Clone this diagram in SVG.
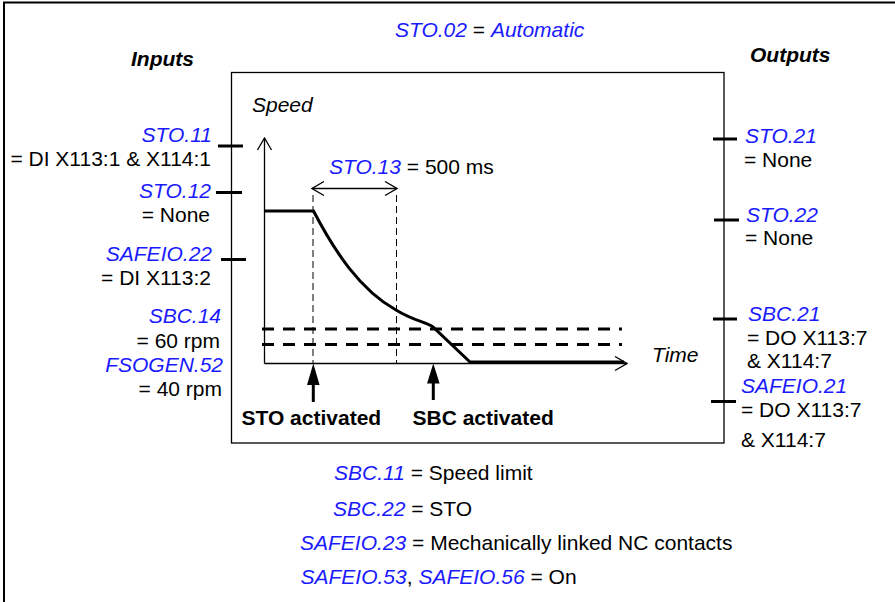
<svg xmlns="http://www.w3.org/2000/svg" width="895" height="602" viewBox="0 0 895 602">
<style>
text{font-family:"Liberation Sans",Arial,sans-serif;font-size:21px;fill:#000}
.p{fill:#1a1aff;font-style:italic}
.i{font-style:italic}
.bi{font-weight:bold;font-style:italic}
.b{font-weight:bold}
.e{text-anchor:end}
.tick{stroke:#000;stroke-width:3}
.thin{stroke:#000;stroke-width:1.3;fill:none}
.thick{stroke:#000;stroke-width:3;fill:none}
</style>
<defs>
<marker id="open" viewBox="0 0 14 16" refX="13" refY="8" markerWidth="14" markerHeight="16" markerUnits="userSpaceOnUse" orient="auto-start-reverse">
<path d="M1,1 L13,8 L1,15" fill="none" stroke="#000" stroke-width="1.3"/>
</marker>
</defs>
<g id="frame">
<path d="M4,602 V2.5 H895" fill="none" stroke="#000" stroke-width="2"/>
<rect x="231.5" y="72.5" width="492.5" height="370.5" fill="none" stroke="#000" stroke-width="1.3"/>
</g>
<g id="title"><text x="395" y="37"><tspan class="p">STO.02</tspan> = <tspan class="p">Automatic</tspan></text></g>
<g id="inputs">
<text class="bi" x="131" y="66">Inputs</text>
<text class="p e" x="212" y="142">STO.11</text>
<text class="e" x="211" y="166">= DI X113:1 &amp; X114:1</text>
<text class="p e" x="211" y="198">STO.12</text>
<text class="e" x="210" y="222">= None</text>
<text class="p e" x="212" y="261">SAFEIO.22</text>
<text class="e" x="211" y="285">= DI X113:2</text>
<text class="p e" x="221" y="323">SBC.14</text>
<text class="e" x="220" y="348">= 60 rpm</text>
<text class="p e" x="223" y="372">FSOGEN.52</text>
<text class="e" x="222" y="396">= 40 rpm</text>
</g>
<g id="outputs">
<text class="bi" x="750" y="62">Outputs</text>
<text class="p" x="745" y="143">STO.21</text>
<text x="744" y="167">= None</text>
<text class="p" x="746" y="222">STO.22</text>
<text x="745" y="245">= None</text>
<text class="p" x="748" y="321">SBC.21</text>
<text x="747" y="345">= DO X113:7</text>
<text x="747" y="368">&amp; X114:7</text>
<text class="p" x="741" y="393">SAFEIO.21</text>
<text x="741" y="417">= DO X113:7</text>
<text x="741" y="447">&amp; X114:7</text>
</g>
<g id="connectors">
<line class="tick" x1="218" y1="146" x2="243" y2="146"/>
<line class="tick" x1="216" y1="192.5" x2="242" y2="192.5"/>
<line class="tick" x1="221" y1="259.5" x2="246" y2="259.5"/>
<line class="tick" x1="713" y1="139" x2="737" y2="139"/>
<line class="tick" x1="714" y1="220" x2="739" y2="220"/>
<line class="tick" x1="713" y1="319" x2="737" y2="319"/>
<line class="tick" x1="711" y1="401.5" x2="736" y2="401.5"/>
</g>
<g id="chart">
<line class="thin" x1="264.5" y1="363.5" x2="264.5" y2="138" marker-end="url(#open)"/>
<line class="thin" x1="264.5" y1="363.5" x2="627" y2="363.5" marker-end="url(#open)"/>
<line x1="313" y1="195" x2="313" y2="363" stroke="#000" stroke-width="1" stroke-dasharray="7,4"/>
<line x1="396.5" y1="195" x2="396.5" y2="363" stroke="#000" stroke-width="1" stroke-dasharray="7,4"/>
<line class="thin" x1="312" y1="188.5" x2="397" y2="188.5" marker-start="url(#open)" marker-end="url(#open)"/>
<line x1="262" y1="329" x2="622" y2="329" stroke="#000" stroke-width="3" stroke-dasharray="12,9"/>
<line x1="262" y1="344.5" x2="622" y2="344.5" stroke="#000" stroke-width="3" stroke-dasharray="12,9"/>
<path class="thick" d="M264,211 H313.5 C335,252 360,290 396,310 C414,321 426,322 433,327 L470,362 H624"/>
<path d="M313.3,363.5 L307,385 L319.6,385 Z" fill="#000"/>
<line x1="313.3" y1="384" x2="313.3" y2="402" stroke="#000" stroke-width="3"/>
<path d="M433.3,363.5 L427,383.5 L439.6,383.5 Z" fill="#000"/>
<line x1="433.3" y1="383" x2="433.3" y2="400" stroke="#000" stroke-width="3"/>
<text class="i" x="252" y="112">Speed</text>
<text x="329" y="173.5"><tspan class="p">STO.13</tspan> = 500 ms</text>
<text class="i" x="652" y="362">Time</text>
<text class="b" x="241.5" y="424.5">STO activated</text>
<text class="b" x="412.5" y="424.5">SBC activated</text>
</g>
<g id="notes">
<text x="334" y="479.5"><tspan class="p">SBC.11</tspan> = Speed limit</text>
<text x="333" y="516"><tspan class="p">SBC.22</tspan> = STO</text>
<text x="300" y="549.5"><tspan class="p">SAFEIO.23</tspan> = Mechanically linked NC contacts</text>
<text x="300.5" y="583.5"><tspan class="p">SAFEIO.53</tspan>, <tspan class="p">SAFEIO.56</tspan> = On</text>
</g>
</svg>
